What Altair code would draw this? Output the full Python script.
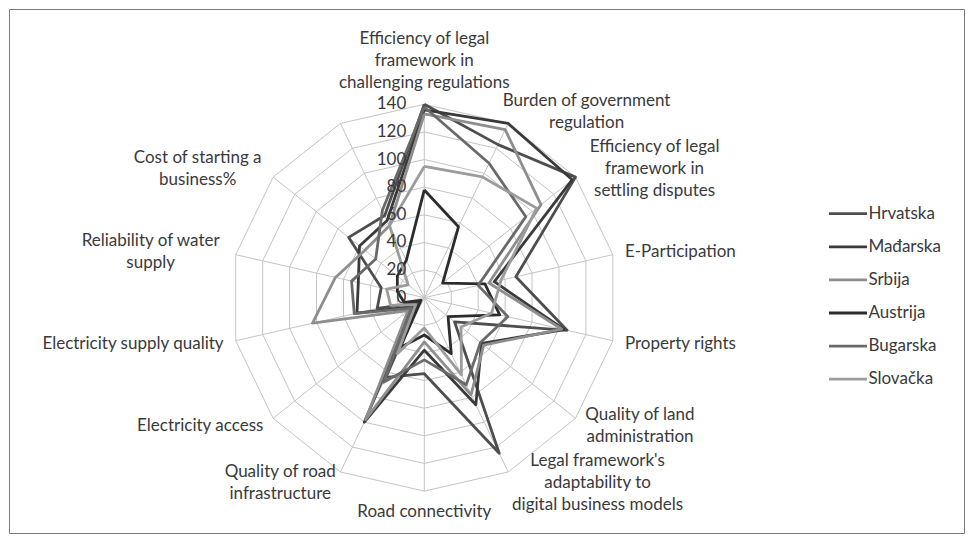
import altair as alt
import pandas as pd

categories = [
    "Efficiency of legal\nframework in\nchallenging regulations",
    "Burden of government\nregulation",
    "Efficiency of legal\nframework in\nsettling disputes",
    "E-Participation",
    "Property rights",
    "Quality of land\nadministration",
    "Legal framework's\nadaptability to\ndigital business models",
    "Road connectivity",
    "Quality of road\ninfrastructure",
    "Electricity access",
    "Electricity supply quality",
    "Reliability of water\nsupply",
    "Cost of starting a\nbusiness%",
    "",
]

series_names = ["Hrvatska", "Mađarska", "Srbija", "Austrija", "Bugarska", "Slovačka"]
hrvatska = [140, 123, 140, 68, 106, 28, 125, 55, 64, 6, 35, 32, 70, 66]
madarska = [136, 140, 137, 52, 104, 53, 86, 38, 100, 10, 50, 49, 60, 62]
srbija = [133, 135, 108, 48, 102, 55, 78, 32, 98, 15, 83, 66, 55, 58]
austrija = [78, 57, 17, 45, 56, 22, 45, 27, 40, 3, 15, 20, 25, 30]
bugarska = [138, 108, 94, 40, 62, 52, 70, 45, 68, 12, 52, 54, 45, 70]
slovacka = [95, 97, 104, 57, 50, 34, 62, 22, 45, 8, 25, 28, 15, 58]
series_values = [hrvatska, madarska, srbija, austrija, bugarska, slovacka]
series_colors = ["#4e4e4e", "#3a3a3a", "#8e8e8e", "#2c2c2c", "#6a6a6a", "#9c9c9c"]

ticks = [0, 20, 40, 60, 80, 100, 120, 140]

N = len(categories)
RMAX = ticks[-1]

# ---- layout (pixels) ----
W, H = 955, 524
K = 193.4 / RMAX          # px per unit
CX, CY = 415.3, 288.7     # radar centre inside view
FONT = "Lato"
TXT = "#3a3a3a"
FS = 17
LH = 22                   # line height px
CW = 7.3                  # approx char width px

xs = alt.Scale(domain=[-CX / K, (W - CX) / K], nice=False, zero=False)
ys = alt.Scale(domain=[-(H - CY) / K, CY / K], nice=False, zero=False)
X = lambda f: alt.X(f, type="quantitative", scale=xs, axis=None)
Y = lambda f: alt.Y(f, type="quantitative", scale=ys, axis=None)

ang = f"(2*PI*datum.i/{N})"

# ---- tables ----
rows = []
for name, vals in zip(series_names, series_values):
    for i in range(N + 1):
        rows.append({"series": name, "i": i, "value": vals[i % N]})
df = pd.DataFrame(rows)

ring_df = pd.DataFrame([{"t": t, "i": i} for t in ticks[1:] for i in range(N + 1)])
spoke_df = pd.DataFrame({"i": list(range(N))})
tick_df = pd.DataFrame({"t": ticks, "lab": [str(t) for t in ticks]})
cat_df = pd.DataFrame({
    "i": list(range(N)),
    "label": categories,
    "nl": [c.count("\n") + 1 for c in categories],
    "nc": [max(len(s) for s in c.split("\n")) for c in categories],
})
leg_df = pd.DataFrame({"series": series_names, "k": list(range(len(series_names)))})

color = alt.Color("series:N", scale=alt.Scale(domain=series_names, range=series_colors), legend=None)

rings = alt.Chart(ring_df).mark_line(color="#c4c4c4", strokeWidth=1).transform_calculate(
    x=f"datum.t*sin({ang})", y=f"datum.t*cos({ang})"
).encode(x=X("x"), y=Y("y"), detail="t:N", order="i:Q")

spokes = alt.Chart(spoke_df).mark_rule(color="#c4c4c4", strokeWidth=1).transform_calculate(
    x0="0", y0="0", x1=f"{RMAX}*sin({ang})", y1=f"{RMAX}*cos({ang})"
).encode(x=X("x0"), y=Y("y0"), x2="x1:Q", y2="y1:Q")

tick_labels = alt.Chart(tick_df).mark_text(
    align="right", baseline="middle", font=FONT, fontSize=FS, color=TXT
).transform_calculate(x="-13", y="datum.t").encode(x=X("x"), y=Y("y"), text="lab:N")

PAD = 9
lab_pos = alt.Chart(cat_df).transform_calculate(
    ex=f"({RMAX}+{PAD})*sin({ang})", ey=f"({RMAX}+{PAD})*cos({ang})"
)

def cat_layer(filt, align, baseline, xexpr, yexpr):
    return lab_pos.transform_filter(filt).transform_calculate(
        x=xexpr, y=yexpr
    ).mark_text(
        align=align, baseline=baseline, font=FONT, fontSize=FS, color=TXT,
        lineBreak="\n", lineHeight=LH
    ).encode(x=X("x"), y=Y("y"), text="label:N")

mid_y = f"datum.ey + (datum.nl-1)/2*{LH}/{K}"
half_w = f"datum.nc*{CW}/2/{K}"
half = N // 2
cat_top = cat_layer("datum.i == 0", "center", "bottom", "datum.ex", f"datum.ey + (datum.nl-1)*{LH}/{K}")
cat_bot = cat_layer(f"datum.i == {half}", "center", "top", "datum.ex", "datum.ey")
cat_r1 = cat_layer(f"datum.i > 0 && datum.i < {half} && datum.nl == 1", "left", "middle", "datum.ex", mid_y)
cat_rm = cat_layer(f"datum.i > 0 && datum.i < {half} && datum.nl > 1", "center", "middle", f"datum.ex + {half_w}", mid_y)
cat_l1 = cat_layer(f"datum.i > {half} && datum.nl == 1", "right", "middle", "datum.ex", mid_y)
cat_lm = cat_layer(f"datum.i > {half} && datum.nl > 1", "center", "middle", f"datum.ex - {half_w}", mid_y)

lines = alt.Chart(df).mark_line(strokeWidth=2.8, strokeJoin="round").transform_calculate(
    x=f"datum.value*sin({ang})", y=f"datum.value*cos({ang})"
).encode(x=X("x"), y=Y("y"), color=color, detail="series:N", order="i:Q")

# legend built from the series list
LX0 = (828 - 8 - CX) / K
LX1 = (866 - 8 - CX) / K
LY0 = (CY - (212.7 - 8)) / K
LSTEP = 33.1 / K
leg_rules = alt.Chart(leg_df).mark_rule(strokeWidth=2.8).transform_calculate(
    x0=f"{LX0}", x1=f"{LX1}", y=f"{LY0}-datum.k*{LSTEP}"
).encode(x=X("x0"), x2="x1:Q", y=Y("y"), color=color)
leg_text = alt.Chart(leg_df).mark_text(
    align="left", baseline="middle", font=FONT, fontSize=FS, color=TXT
).transform_calculate(x=f"{LX1}+1", y=f"{LY0}-datum.k*{LSTEP}").encode(
    x=X("x"), y=Y("y"), text="series:N"
)

chart = alt.layer(
    rings, spokes, lines, tick_labels, cat_top, cat_bot, cat_r1, cat_rm, cat_l1, cat_lm,
    leg_rules, leg_text
).properties(
    width=W, height=H, autosize="none",
    padding={"left": 1, "top": 1, "right": 2, "bottom": 2},
).configure_view(
    stroke="#7a7a7a", strokeWidth=1
)

chart.save("out.html", embed_options={"renderer": "svg", "actions": False})
